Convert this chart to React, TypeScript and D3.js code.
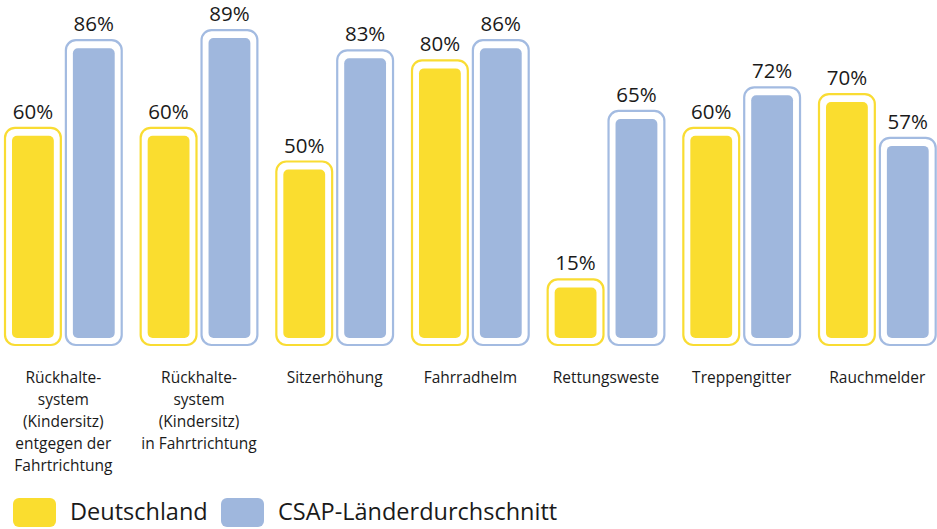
import React from "react";
import * as d3 from "d3";

const categories: string[][] = [
  ["Rückhalte-", "system", "(Kindersitz)", "entgegen der", "Fahrtrichtung"],
  ["Rückhalte-", "system", "(Kindersitz)", "in Fahrtrichtung"],
  ["Sitzerhöhung"],
  ["Fahrradhelm"],
  ["Rettungsweste"],
  ["Treppengitter"],
  ["Rauchmelder"],
];
const deutschland = [60, 60, 50, 80, 15, 60, 70];
const csap = [86, 89, 83, 86, 65, 72, 57];
const seriesNames = ["Deutschland", "CSAP-Länderdurchschnitt"];
const seriesKeys = ["de", "csap"];
const fills = ["#FADD2F", "#9FB7DD"];
const strokes = ["#F9DC33", "#A3BBE1"];

const W = 937;
const H = 529;
const FONT = "'Open Sans', 'Noto Sans', sans-serif";

export default function App() {
  const idx = categories.map((_, i) => String(i));
  const x = d3.scaleBand<string>().domain(idx).range([4, 936.7]).paddingInner(0.125).paddingOuter(0);
  const xs = d3.scaleBand<string>().domain(seriesKeys).range([0, x.bandwidth()]).paddingInner(0.05).paddingOuter(0);
  const y = d3.scaleLinear().domain([0, 100]).range([338, 1]);
  const values = [deutschland, csap];
  const pad = 8;
  return (
    <svg width={W} height={H} style={{ position: "absolute", left: 0, top: 0, background: "#fff" }}>
      {idx.map((c, i) => (
        <g key={c} transform={`translate(${x(c)},0)`}>
          {seriesKeys.map((k, s) => {
            const v = values[s][i];
            const bx = xs(k)!;
            const bw = xs.bandwidth();
            const top = y(v);
            return (
              <g key={k}>
                <rect x={bx + 1} y={top - pad} width={bw - 2} height={y(0) - top + pad + 7} rx={10} ry={10}
                  fill="#fff" stroke={strokes[s]} strokeWidth={2.2} />
                <rect x={bx + pad} y={top} width={bw - 2 * pad} height={y(0) - top} rx={5} ry={5} fill={fills[s]} />
                <text x={bx + bw / 2} y={top - pad - 9} textAnchor="middle" fontFamily={FONT} fontSize={20.5} fill="#1a1a1a">
                  {v}%
                </text>
              </g>
            );
          })}
          <text textAnchor="middle" fontFamily={FONT} fontSize={15.5} fill="#1a1a1a">
            {categories[i].map((line, j) => (
              <tspan key={j} x={x.bandwidth() / 2} y={383 + j * 22}>{line}</tspan>
            ))}
          </text>
        </g>
      ))}
      <g>
        {seriesNames.map((n, s) => {
          const lx = s === 0 ? 13 : 221;
          return (
            <g key={n}>
              <rect x={lx} y={498} width={43} height={29} rx={6} ry={6} fill={fills[s]} />
              <text x={lx + 57} y={520} fontFamily={FONT} fontSize={23.5} fill="#1a1a1a">{n}</text>
            </g>
          );
        })}
      </g>
    </svg>
  );
}
